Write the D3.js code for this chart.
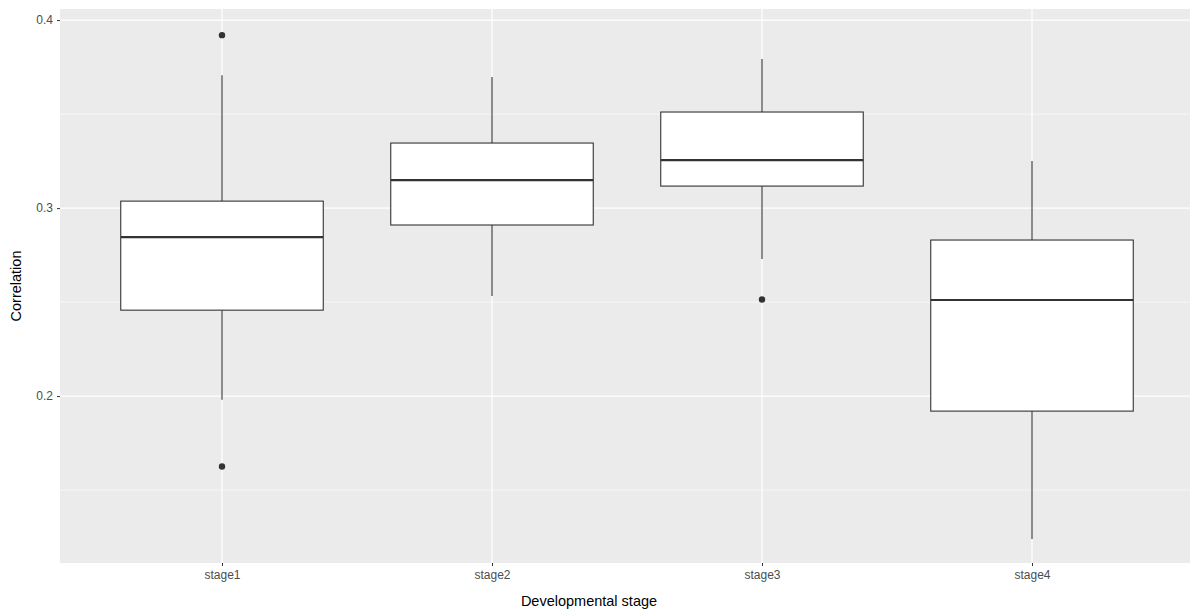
<!DOCTYPE html>
<html>
<head>
<meta charset="utf-8">
<script src="https://cdn.jsdelivr.net/npm/d3@7"></script>
<style>
  body { margin: 0; background: #fff; }
  text { font-family: "Liberation Sans", Arial, sans-serif; }
</style>
</head>
<body>
<div id="chart"></div>
<script>
// box summaries
var stages = ["stage1", "stage2", "stage3", "stage4"];
var whiskerLow  = [0.198, 0.2532, 0.2729, 0.124];
var q1          = [0.2457, 0.2910, 0.3117, 0.192];
var median      = [0.2846, 0.3149, 0.3255, 0.2511];
var q3          = [0.3037, 0.3346, 0.3511, 0.283];
var whiskerHigh = [0.3707, 0.3697, 0.3793, 0.325];
var outliers = [
    {stage: "stage1", value: 0.392},
    {stage: "stage1", value: 0.1625},
    {stage: "stage3", value: 0.2514}
];
var yTicks = [0.2, 0.3, 0.4];
var yMinor = [0.15, 0.25, 0.35];

var width = 1190, height = 614;
var margin = {top: 9, right: 0, bottom: 51, left: 60};
var panelRight = 1194;

var svg = d3.select("#chart").append("svg")
    .attr("width", width)
    .attr("height", height);

var x = d3.scalePoint()
    .domain(stages)
    .range([margin.left, panelRight])
    .padding(0.6);

var y = d3.scaleLinear()
    .domain([0.1112, 0.4059])
    .range([height - margin.bottom, margin.top]);

var step = x.step();
var boxW = step * 0.75;

svg.append("rect")
    .attr("x", margin.left)
    .attr("y", margin.top)
    .attr("width", panelRight - margin.left)
    .attr("height", height - margin.bottom - margin.top)
    .attr("fill", "#ebebeb");

var grid = svg.append("g");
grid.selectAll(".minor")
    .data(yMinor)
    .enter().append("line")
    .attr("x1", margin.left).attr("x2", panelRight)
    .attr("y1", function(d) { return y(d); })
    .attr("y2", function(d) { return y(d); })
    .attr("stroke", "#fff").attr("stroke-width", 0.6);
grid.selectAll(".major")
    .data(yTicks)
    .enter().append("line")
    .attr("x1", margin.left).attr("x2", panelRight)
    .attr("y1", function(d) { return y(d); })
    .attr("y2", function(d) { return y(d); })
    .attr("stroke", "#fff").attr("stroke-width", 1.2);
grid.selectAll(".vmajor")
    .data(stages)
    .enter().append("line")
    .attr("y1", margin.top).attr("y2", height - margin.bottom)
    .attr("x1", function(d) { return x(d); })
    .attr("x2", function(d) { return x(d); })
    .attr("stroke", "#fff").attr("stroke-width", 1.2);

var boxes = svg.selectAll(".box")
    .data(stages)
    .enter().append("g")
    .attr("class", "box");

boxes.append("line")
    .attr("x1", function(d) { return x(d); })
    .attr("x2", function(d) { return x(d); })
    .attr("y1", function(d, i) { return y(whiskerHigh[i]); })
    .attr("y2", function(d, i) { return y(q3[i]); })
    .attr("stroke", "#333").attr("stroke-width", 1.1);
boxes.append("line")
    .attr("x1", function(d) { return x(d); })
    .attr("x2", function(d) { return x(d); })
    .attr("y1", function(d, i) { return y(q1[i]); })
    .attr("y2", function(d, i) { return y(whiskerLow[i]); })
    .attr("stroke", "#333").attr("stroke-width", 1.1);
boxes.append("rect")
    .attr("x", function(d) { return x(d) - boxW / 2; })
    .attr("width", boxW)
    .attr("y", function(d, i) { return y(q3[i]); })
    .attr("height", function(d, i) { return y(q1[i]) - y(q3[i]); })
    .attr("fill", "#fff")
    .attr("stroke", "#333").attr("stroke-width", 1.1);
boxes.append("line")
    .attr("x1", function(d) { return x(d) - boxW / 2; })
    .attr("x2", function(d) { return x(d) + boxW / 2; })
    .attr("y1", function(d, i) { return y(median[i]); })
    .attr("y2", function(d, i) { return y(median[i]); })
    .attr("stroke", "#333").attr("stroke-width", 2.2);

svg.selectAll(".outlier")
    .data(outliers)
    .enter().append("circle")
    .attr("cx", function(d) { return x(d.stage); })
    .attr("cy", function(d) { return y(d.value); })
    .attr("r", 3.2)
    .attr("fill", "#333");

var xAxis = svg.append("g")
    .attr("transform", "translate(0," + (height - margin.bottom) + ")")
    .call(d3.axisBottom(x).tickSize(3).tickPadding(4));
xAxis.select(".domain").remove();
xAxis.selectAll("line").attr("stroke", "#333");
xAxis.selectAll("text").attr("fill", "#4d4d4d").attr("font-size", 12)
    .style("font-family", "Liberation Sans, Arial, sans-serif");

var yAxis = svg.append("g")
    .attr("transform", "translate(" + margin.left + ",0)")
    .call(d3.axisLeft(y).tickValues(yTicks).tickFormat(d3.format(".1f")).tickSize(3).tickPadding(4));
yAxis.select(".domain").remove();
yAxis.selectAll("line").attr("stroke", "#333");
yAxis.selectAll("text").attr("fill", "#4d4d4d").attr("font-size", 12)
    .style("font-family", "Liberation Sans, Arial, sans-serif");

svg.append("text")
    .attr("x", 589)
    .attr("y", 606)
    .attr("text-anchor", "middle")
    .attr("font-size", 14.5)
    .attr("fill", "#000")
    .text("Developmental stage");

svg.append("text")
    .attr("transform", "translate(21," + 286 + ") rotate(-90)")
    .attr("text-anchor", "middle")
    .attr("font-size", 14.5)
    .attr("fill", "#000")
    .text("Correlation");
</script>
</body>
</html>
